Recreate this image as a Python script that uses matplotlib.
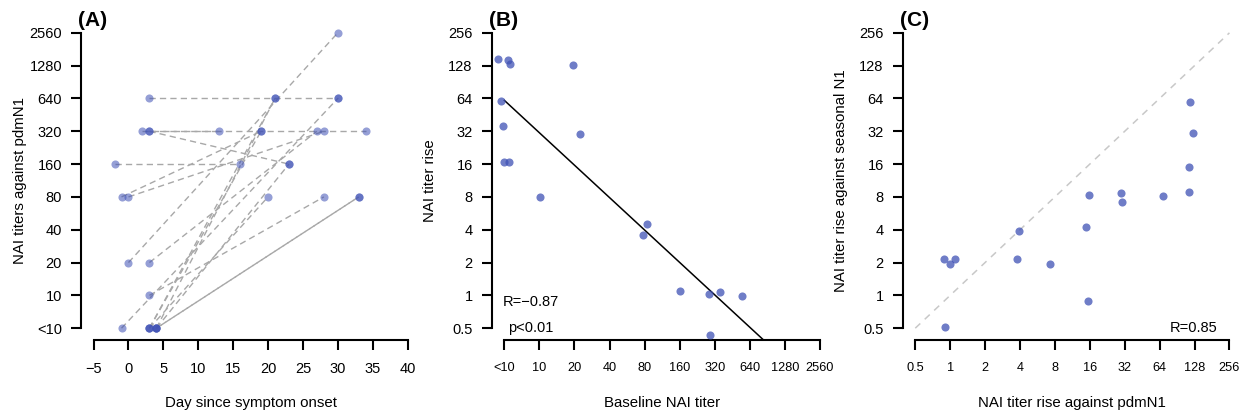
import matplotlib
matplotlib.use("Agg")
import matplotlib.pyplot as plt
import numpy as np

plt.rcParams["font.family"] = ["Liberation Sans", "DejaVu Sans"]

# ── data ─────────────────────────────────────────────────
# titers: "<10" is stored as 5 so that log2 spacing matches the plot
day_base = [3, 2, 3, 3, -2, -1, 0, 0, 3, 3, -1, 3, 4, 3, 3, 4, 4, 4]
titer_base = [640, 320, 320, 320, 160, 80, 80, 20, 20, 10, 5, 5, 5, 5, 5, 5, 5, 5]
day_post = [30, 34, 13, 23, 16, 19, 28, 30, 27, 28, 30, 21, 21, 19, 20, 33, 33, 23]
titer_post = [640, 320, 320, 160, 160, 320, 320, 2560, 320, 80, 640, 640, 640, 320, 80, 80, 80, 160]

titer_ticks = [5, 10, 20, 40, 80, 160, 320, 640, 1280, 2560]
titer_labels = ["<10", "10", "20", "40", "80", "160", "320", "640", "1280", "2560"]
day_ticks = [-5, 0, 5, 10, 15, 20, 25, 30, 35, 40]

# panel B: baseline titer (jittered) vs fold rise
b_baseline = [4.38, 5.39, 5.58, 4.67, 4.83, 4.97, 5.51, 10.07, 19.6, 22.5,
              77.9, 83.4, 161, 284, 353, 553, 292]
b_rise = [147, 145, 133, 61, 36, 16.7, 16.8, 8.05, 131, 30,
          3.6, 4.5, 1.1, 1.04, 1.07, 0.99, 0.43]
b_r_text = "R=\u22120.87"
b_p_text = "p<0.01"

# panel C: rise against pdmN1 vs rise against seasonal N1
c_pdm = [0.9, 0.88, 0.99, 1.11, 3.76, 3.95, 7.2, 14.9, 15.6, 15.4,
         29.6, 30.5, 68.6, 115, 115, 118, 125]
c_seasonal = [0.51, 2.16, 1.96, 2.17, 2.17, 3.93, 1.93, 4.26, 8.3, 0.89,
              8.7, 7.2, 8.1, 8.9, 15, 59, 30.7]
c_r_text = "R=0.85"

rise_ticks = [0.5, 1, 2, 4, 8, 16, 32, 64, 128, 256]
rise_labels = ["0.5", "1", "2", "4", "8", "16", "32", "64", "128", "256"]

# ── styles ───────────────────────────────────────────────
PT = "#3F51B5"
LINE = "#A8A8A8"
TICK_FS = 10.5
SMALL_FS = 9.2
LAB_FS = 10.8


def style_axis(ax, xt, yt):
    for s in ["top", "right"]:
        ax.spines[s].set_visible(False)
    for s in ["left", "bottom"]:
        ax.spines[s].set_linewidth(1.5)
    ax.spines["left"].set_bounds(yt[0], yt[-1])
    ax.spines["bottom"].set_bounds(xt[0], xt[-1])
    ax.tick_params(axis="both", length=7.2, width=1.5, direction="out")
    ax.tick_params(axis="y", pad=6.5, labelsize=TICK_FS)
    ax.tick_params(axis="x", pad=8.5, labelsize=TICK_FS)
    ax.minorticks_off()
    ax.yaxis.set_label_coords(-0.16, 0.5)
    ax.xaxis.set_label_coords(0.5, -0.175)


def ext_log(lo, hi):
    a, b = np.log2(lo), np.log2(hi)
    d = (b - a) * 0.04
    return 2 ** (a - d), 2 ** (b + d)


fig = plt.figure(figsize=(12.47, 4.16), dpi=100)
axA = fig.add_axes([0.0650, 0.1827, 0.2719, 0.7668])
axB = fig.add_axes([0.3943, 0.1827, 0.2733, 0.7668])
axC = fig.add_axes([0.7239, 0.1827, 0.2721, 0.7668])

# ── (A) ──────────────────────────────────────────────────
axA.set_yscale("log", base=2)
seen = set()
for i in range(len(day_base)):
    key = (day_base[i], titer_base[i], day_post[i], titer_post[i])
    # a repeated pair is drawn with a shifted dash phase (looks near solid)
    ls = (3.8, (4.5, 3)) if key in seen else (0, (4.5, 3))
    seen.add(key)
    axA.plot([day_base[i], day_post[i]], [titer_base[i], titer_post[i]],
             color=LINE, lw=1.0, linestyle=ls, zorder=1)
axA.scatter(day_base, titer_base, s=34, color=PT, alpha=0.55, lw=0, zorder=3)
axA.scatter(day_post, titer_post, s=34, color=PT, alpha=0.55, lw=0, zorder=3)
axA.set_xlim(-6.8, 41.8)
axA.set_ylim(*ext_log(titer_ticks[0], titer_ticks[-1]))
axA.set_xticks(day_ticks)
axA.set_yticks(titer_ticks)
axA.set_yticklabels(titer_labels)
style_axis(axA, day_ticks, titer_ticks)
axA.set_xlabel("Day since symptom onset", fontsize=LAB_FS)
axA.set_ylabel("NAI titers against pdmN1", fontsize=LAB_FS)

# ── (B) ──────────────────────────────────────────────────
axB.set_xscale("log", base=2)
axB.set_yscale("log", base=2)
axB.scatter(b_baseline, b_rise, s=34, color=PT, alpha=0.75, lw=0, zorder=3)
coef = np.polyfit(np.log2(b_baseline), np.log2(b_rise), 1)
xl = np.array([titer_ticks[0], titer_ticks[-1]])
axB.plot(xl, 2 ** np.polyval(coef, np.log2(xl)), color="black", lw=1.1, zorder=2)
axB.set_xlim(*ext_log(titer_ticks[0], titer_ticks[-1]))
axB.set_ylim(*ext_log(rise_ticks[0], rise_ticks[-1]))
axB.set_xticks(titer_ticks)
axB.set_xticklabels(titer_labels)
axB.set_yticks(rise_ticks)
axB.set_yticklabels(rise_labels)
style_axis(axB, titer_ticks, rise_ticks)
axB.tick_params(axis="x", labelsize=SMALL_FS)
axB.text(4.85, 0.87, b_r_text, fontsize=TICK_FS, ha="left", va="center")
axB.text(5.4, 0.5, b_p_text, fontsize=TICK_FS, ha="left", va="center")
axB.set_xlabel("Baseline NAI titer", fontsize=LAB_FS)
axB.set_ylabel("NAI titer rise", fontsize=LAB_FS)

# ── (C) ──────────────────────────────────────────────────
axC.set_xscale("log", base=2)
axC.set_yscale("log", base=2)
axC.plot([rise_ticks[0], rise_ticks[-1]], [rise_ticks[0], rise_ticks[-1]],
         color="#C8C8C8", lw=1.1, linestyle=(0, (4.5, 4)), zorder=1)
axC.scatter(c_pdm, c_seasonal, s=34, color=PT, alpha=0.75, lw=0, zorder=3)
axC.set_xlim(*ext_log(rise_ticks[0], rise_ticks[-1]))
axC.set_ylim(*ext_log(rise_ticks[0], rise_ticks[-1]))
axC.set_xticks(rise_ticks)
axC.set_xticklabels(rise_labels)
axC.set_yticks(rise_ticks)
axC.set_yticklabels(rise_labels)
style_axis(axC, rise_ticks, rise_ticks)
axC.tick_params(axis="x", labelsize=SMALL_FS)
axC.text(2 ** 7.67, 0.5, c_r_text, fontsize=TICK_FS, ha="right", va="center")
axC.set_xlabel("NAI titer rise against pdmN1", fontsize=LAB_FS)
axC.set_ylabel("NAI titer rise against seasonal N1", fontsize=LAB_FS)

for ax, lab in [(axA, "(A)"), (axB, "(B)"), (axC, "(C)")]:
    ax.text(-0.009, 1.003, lab, transform=ax.transAxes, ha="left", va="center",
            fontsize=15, fontweight="bold")

fig.savefig("out.png", dpi=100)
